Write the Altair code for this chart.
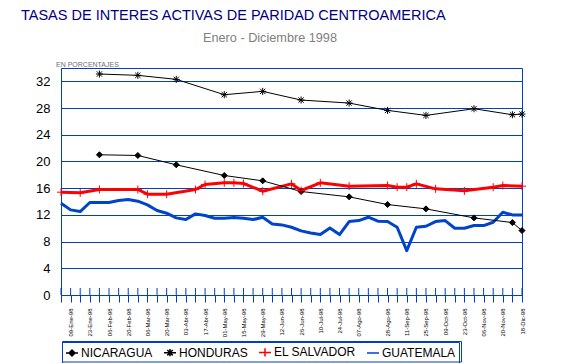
import altair as alt
import pandas as pd

# ---------------- data ----------------
series = ["NICARAGUA", "HONDURAS", "EL SALVADOR", "GUATEMALA"]
series_colors = ["#000000", "#000000", "#FF0000", "#0044CC"]
series_widths = [1, 1, 3, 3]

nic_k = [4, 8, 12, 17, 21, 25, 30, 34, 38, 43, 47, 48]
nic_v = [21.0, 20.9, 19.5, 17.9, 17.1, 15.5, 14.7, 13.55, 12.9, 11.55, 10.85, 9.65]

hon_k = [4, 8, 12, 17, 21, 25, 30, 34, 38, 43, 47, 48]
hon_v = [33.1, 32.9, 32.3, 30.0, 30.5, 29.2, 28.75, 27.65, 26.9, 27.9, 27.0, 27.1]

sal_k = [0, 2, 4, 8, 9, 11, 14, 15, 17, 18, 19, 21, 24, 25, 27, 30, 34, 35, 36, 37, 39, 42, 45, 46, 48]
sal_v = [15.4, 15.3, 15.8, 15.8, 15.1, 15.1, 15.8, 16.55, 16.8, 16.8, 16.7, 15.55, 16.65, 15.65,
         16.8, 16.3, 16.4, 16.15, 16.15, 16.65, 15.9, 15.6, 16.15, 16.4, 16.3]

gua_k = list(range(49))
gua_v = [13.75, 12.75, 12.5, 13.85, 13.85, 13.85, 14.15, 14.3, 14.05, 13.5, 12.65, 12.25, 11.55,
         11.3, 12.15, 11.9, 11.5, 11.5, 11.6, 11.5, 11.3, 11.65, 10.65, 10.5, 10.15, 9.6, 9.3,
         9.05, 10.05, 9.05, 11.0, 11.15, 11.65, 11.05, 11.0, 10.15, 6.65, 10.15, 10.3, 11.0,
         11.15, 10.0, 10.0, 10.4, 10.4, 10.9, 12.4, 12.0, 12.0]

tick_positions = list(range(49))
label_positions = [1, 3, 5, 7, 9, 11, 13, 15, 17, 19, 21, 23, 25, 27, 29, 31,
                   34, 36, 38, 40, 42, 44, 46, 48]
label_texts = ["09-Ene-98", "23-Ene-98", "06-Feb-98", "20-Feb-98", "06-Mar-98", "20-Mar-98",
               "03-Abr-98", "17-Abr-98", "01-May-98", "15-May-98", "29-May-98", "12-Jun-98",
               "26-Jun-98", "10-Jul-98", "24-Jul-98", "07-Ago-98", "28-Ago-98", "11-Sep-98",
               "25-Sep-98", "09-Oct-98", "23-Oct-98", "06-Nov-98", "20-Nov-98", "18-Dic-98"]

y_ticks = [0, 4, 8, 12, 16, 20, 24, 28, 32]

title_text = "TASAS DE INTERES ACTIVAS DE PARIDAD CENTROAMERICA"
subtitle_text = "Enero - Diciembre 1998"
unit_text = "EN PORCENTAJES"

# ---------------- build table ----------------
rows = []
for name, ks, vs in [(series[0], nic_k, nic_v), (series[1], hon_k, hon_v),
                     (series[2], sal_k, sal_v), (series[3], gua_k, gua_v)]:
    for k, v in zip(ks, vs):
        rows.append({"serie": name, "k": k, "v": v})
df = pd.DataFrame(rows)

lab_arr = [""] * 49
for p, t in zip(label_positions, label_texts):
    lab_arr[p] = t
label_expr = "[" + ",".join("'" + s + "'" for s in lab_arr) + "][datum.value]"

BLUE = "#0040C0"
FONT = "Liberation Sans"

W, H = 461, 227

x_enc = alt.X("k:Q", title=None,
              scale=alt.Scale(domain=[0, 48], nice=False, zero=False),
              axis=alt.Axis(values=tick_positions, labelExpr=label_expr, labelAngle=270,
                            labelAlign="right", labelBaseline="middle", labelFontSize=6,
                            labelFont=FONT, labelColor="#000000", labelPadding=6,
                            labelOverlap=False, tickSize=7, tickColor=BLUE,
                            domainColor=BLUE, grid=False))
y_enc = alt.Y("v:Q", title=None,
              scale=alt.Scale(domain=[0, 34], nice=False),
              axis=alt.Axis(values=y_ticks, grid=True, gridColor=BLUE, gridOpacity=1,
                            domainColor=BLUE, ticks=False, labelPadding=11,
                            labelOverlap=False,
                            labelFontSize=13, labelFont=FONT, labelColor="#000000"))

color_scale = alt.Scale(domain=series, range=series_colors)

line_order = ["GUATEMALA", "EL SALVADOR", "NICARAGUA", "HONDURAS"]
lines = alt.layer(*[
    alt.Chart(df).transform_filter(alt.datum.serie == s).mark_line(
        strokeJoin="round", strokeWidth=series_widths[series.index(s)]).encode(
        x=x_enc, y=y_enc,
        color=alt.Color("serie:N", scale=color_scale, legend=None))
    for s in line_order
])

diamond = "M0,-1L1,0L0,1L-1,0Z"
star = "M-1,0H1M0,-1V1M-0.75,0.75L0.75,-0.75M-0.75,-0.75L0.75,0.75"
cross = "M-1,0H1M0,-1V1"
marker_series = series[:3]
points = alt.Chart(df).transform_filter(alt.datum.serie != "GUATEMALA").mark_point(
    filled=True, opacity=1, strokeWidth=1).encode(
    x=x_enc, y=y_enc,
    shape=alt.Shape("serie:N", scale=alt.Scale(domain=marker_series,
                                                range=[diamond, star, cross]), legend=None),
    fill=alt.Fill("serie:N", scale=alt.Scale(domain=marker_series,
                                              range=series_colors[:3]), legend=None),
    stroke=alt.Stroke("serie:N", scale=alt.Scale(domain=marker_series,
                                                  range=series_colors[:3]), legend=None),
    size=alt.Size("serie:N", scale=alt.Scale(domain=marker_series, range=[36, 64, 100]),
                  legend=None),
)

inner_ticks = alt.Chart(pd.DataFrame({"k": tick_positions})).mark_tick(
    color=BLUE, thickness=1, size=7, opacity=1).encode(
    x=x_enc, y=alt.value(H - 3.5))

leg_paths = ["M-1,0H1M0,-0.5L0.5,0L0,0.5L-0.5,0Z",
             "M-1,0H1M0,-0.6V0.6M-0.45,0.45L0.45,-0.45M-0.45,-0.45L0.45,0.45",
             "M-1,0H1M0,-0.7V0.7",
             "M-1,0H1"]
leg = alt.Legend(orient="none", legendX=1, legendY=274, direction="horizontal", columns=4,
                 title=None, symbolSize=144, labelFontSize=12, labelFont=FONT,
                 labelColor="#000000", padding=3, columnPadding=8,
                 labelOffset=2, symbolOpacity=1, strokeColor=BLUE,
                 fillColor="transparent")
legend_layer = alt.Chart(df).transform_filter("false").mark_point(
    filled=True, opacity=1).encode(
    x=x_enc, y=y_enc,
    shape=alt.Shape("serie:N", scale=alt.Scale(domain=series, range=leg_paths), legend=leg),
    fill=alt.Fill("serie:N", scale=alt.Scale(domain=series, range=series_colors), legend=leg),
    stroke=alt.Stroke("serie:N", scale=alt.Scale(domain=series, range=series_colors),
                      legend=leg),
    strokeWidth=alt.StrokeWidth("serie:N", scale=alt.Scale(domain=series,
                                                           range=[1.5, 1.5, 3, 3]),
                                legend=leg),
)

# legend frame: thin rectangle outline
frame = alt.Chart(pd.DataFrame({"f": [1]})).mark_rect(
    filled=False, color=BLUE, strokeWidth=1, opacity=1, strokeOpacity=1).encode(
    x=alt.value(1.5), x2=alt.value(400.5), y=alt.value(273.5), y2=alt.value(294))

texts = pd.DataFrame({"t": [title_text, subtitle_text, unit_text]})
title_mark = alt.Chart(texts).transform_filter(alt.datum.t == title_text).mark_text(
    align="left", baseline="alphabetic", font=FONT, fontSize=14.5, color="#000080").encode(
    text="t:N", x=alt.value(-40), y=alt.value(-48))
subtitle_mark = alt.Chart(texts).transform_filter(alt.datum.t == subtitle_text).mark_text(
    align="center", baseline="alphabetic", font=FONT, fontSize=12.7, color="#808080").encode(
    text="t:N", x=alt.value(209), y=alt.value(-26))
unit_mark = alt.Chart(texts).transform_filter(alt.datum.t == unit_text).mark_text(
    align="left", baseline="alphabetic", font=FONT, fontSize=7, color="#707070").encode(
    text="t:N", x=alt.value(-5), y=alt.value(-1))

chart = alt.layer(lines, points, inner_ticks, legend_layer, frame,
                  title_mark, subtitle_mark, unit_mark).resolve_scale(
    shape="independent", fill="independent", stroke="independent",
    size="independent", strokeWidth="independent", color="independent"
).properties(
    width=W, height=H,
    autosize=alt.AutoSizeParams(type="none"),
    padding={"left": 53, "top": 60, "right": 20, "bottom": 68},
    background="#FFFFFF",
).configure_view(stroke=BLUE, strokeWidth=1)

chart.save("out.html", embed_options={"renderer": "svg", "actions": False})
